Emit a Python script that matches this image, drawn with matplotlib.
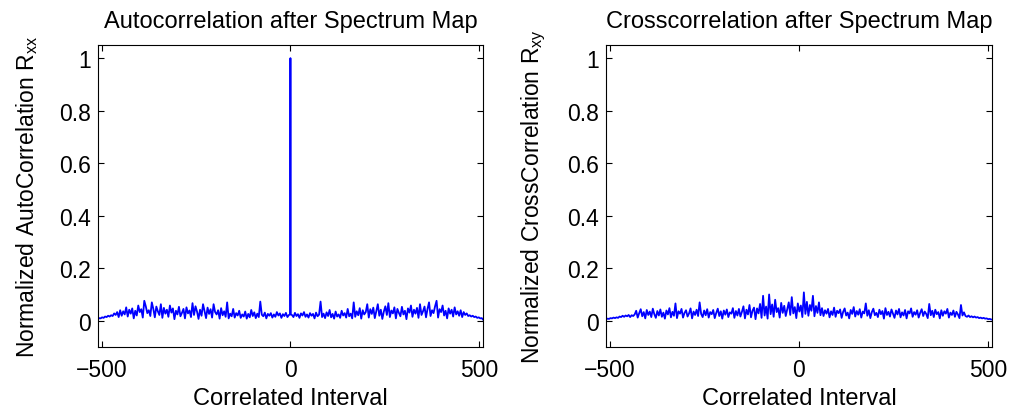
import numpy as np
import matplotlib
matplotlib.use('Agg')
import matplotlib.pyplot as plt

plt.rcParams['font.family'] = ['Liberation Sans', 'DejaVu Sans']
plt.rcParams['mathtext.fontset'] = 'custom'
plt.rcParams['mathtext.rm'] = 'Liberation Sans'
plt.rcParams['mathtext.it'] = 'Liberation Sans:italic'

# autocorrelation is symmetric, so only lags 0..511 are kept (values x 1e-3)
auto_lags = [0, 1] + list(range(4, 509, 4)) + [511]
auto_half = [1000, 24,
             22, 14, 30, 18, 25, 11, 28, 20, 33, 15, 24, 12, 29, 19, 26, 9, 31, 17, 23, 73,
             14, 27, 10, 32, 18, 41, 13, 26, 8, 35, 16, 24, 11, 38, 20, 29, 12, 45, 17, 27,
             9, 70, 15, 36, 21, 48, 8, 40, 24, 33, 63, 12, 44, 26, 50, 10, 37, 63, 19, 42,
             7, 35, 55, 22, 67, 14, 39, 28, 51, 9, 45, 30, 17, 53, 24, 38, 6, 47, 31, 58,
             15, 42, 27, 49, 11, 63, 22, 36, 54, 13, 45, 70, 18, 40, 29, 55, 76, 12, 44, 33,
             58, 20, 38, 9, 47, 27, 42, 16, 51, 24, 36, 19, 40, 14, 33, 22, 28, 18, 21, 16,
             19, 14, 16, 11, 13, 9, 10,
             5]

# crosscorrelation, lags -511..509 step 4 (values x 1e-3)
cross_lags = list(range(-511, 512, 4))
cross_vals = [5, 8, 7, 10, 9, 12, 10, 13, 11,
              16, 14, 19, 15, 20, 17, 22, 14, 21, 18, 24,
              38, 12, 29, 44, 17, 33, 9, 41, 22, 35, 14, 46, 25, 11, 37, 20, 43, 15, 31, 8,
              39, 24, 48, 13, 34, 19, 66, 10, 36, 27, 45, 12, 30, 40, 16, 28, 47, 9, 35, 22,
              42, 18, 70, 26, 14, 39, 21,
              44, 12, 33, 25, 41, 10, 30, 46, 18, 36, 8, 39, 23, 43, 14, 32, 27, 48, 11, 37,
              20, 45, 16, 34,
              55, 9, 42, 24, 60, 13, 38, 50, 6, 47, 28, 64, 11, 95, 20, 54, 8, 100, 25, 62,
              15, 80, 33, 48, 12, 68, 30, 57, 18, 45, 70, 22, 90, 28, 52, 10, 66, 35, 58, 14,
              108, 26, 72, 19, 60, 38, 95, 17, 56, 30, 70, 21, 48,
              18, 40, 27, 45, 13, 36, 22, 50, 15, 38, 29, 43, 11, 34, 47, 20, 31, 9, 41, 26,
              52, 16, 37, 23, 44, 12, 35, 28, 66, 19, 40, 10, 33, 46, 21, 30, 14, 42, 25, 37,
              8, 48, 22, 34, 16, 43, 27, 11, 39, 24, 45, 13, 32, 20, 41, 9, 36, 28, 47, 15,
              33, 23, 40, 12, 30, 44, 18, 35, 26, 10, 64, 21, 38, 14, 42, 25, 33, 9, 40, 19,
              36, 27, 45, 12, 31, 22, 39, 15, 34, 24, 10, 60, 20, 32,
              18, 15, 20, 14, 17, 13, 16, 12, 14, 10, 12, 9, 11, 8, 9, 6, 7, 5]

lag_pos = np.array(auto_lags)
auto_x = np.r_[-lag_pos[::-1], lag_pos[1:]]
auto_y = np.r_[auto_half[::-1], auto_half[1:]] / 1000.0
cross_x = np.array(cross_lags)
cross_y = np.array(cross_vals) / 1000.0

fig = plt.figure(figsize=(10.13, 4.14), dpi=100)
ax1 = fig.add_axes([0.0967, 0.1594, 0.380, 0.7295])
ax2 = fig.add_axes([0.5982, 0.1594, 0.381, 0.7295])

panels = [
    (ax1, auto_x, auto_y, 'Autocorrelation after Spectrum Map',
     r'Normalized AutoCorrelation R$_{\mathrm{xx}}$'),
    (ax2, cross_x, cross_y, 'Crosscorrelation after Spectrum Map',
     r'Normalized CrossCorrelation R$_{\mathrm{xy}}$'),
]

for ax, x, y, title, ylab in panels:
    ax.plot(x, y, color='#0000ff', lw=1.3)
    ax.set_xlim(-511, 511)
    ax.set_ylim(-0.1, 1.05)
    ax.set_xticks([-500, 0, 500])
    ax.set_yticks([0, 0.2, 0.4, 0.6, 0.8, 1])
    ax.set_yticklabels(['0', '0.2', '0.4', '0.6', '0.8', '1'])
    ax.tick_params(direction='in', top=True, right=True, length=4, width=0.8,
                   labelsize=16.5)
    ax.tick_params(axis='x', pad=8)
    ax.tick_params(axis='y', pad=5)
    for s in ax.spines.values():
        s.set_linewidth(0.8)
    ax.set_title(title, fontsize=17, pad=13)
    ax.set_xlabel('Correlated Interval', fontsize=17, labelpad=4)
    ax.set_ylabel(ylab, fontsize=16.5)
    ax.yaxis.set_label_coords(-0.15, 0.5)

fig.savefig('out.png', dpi=100)
